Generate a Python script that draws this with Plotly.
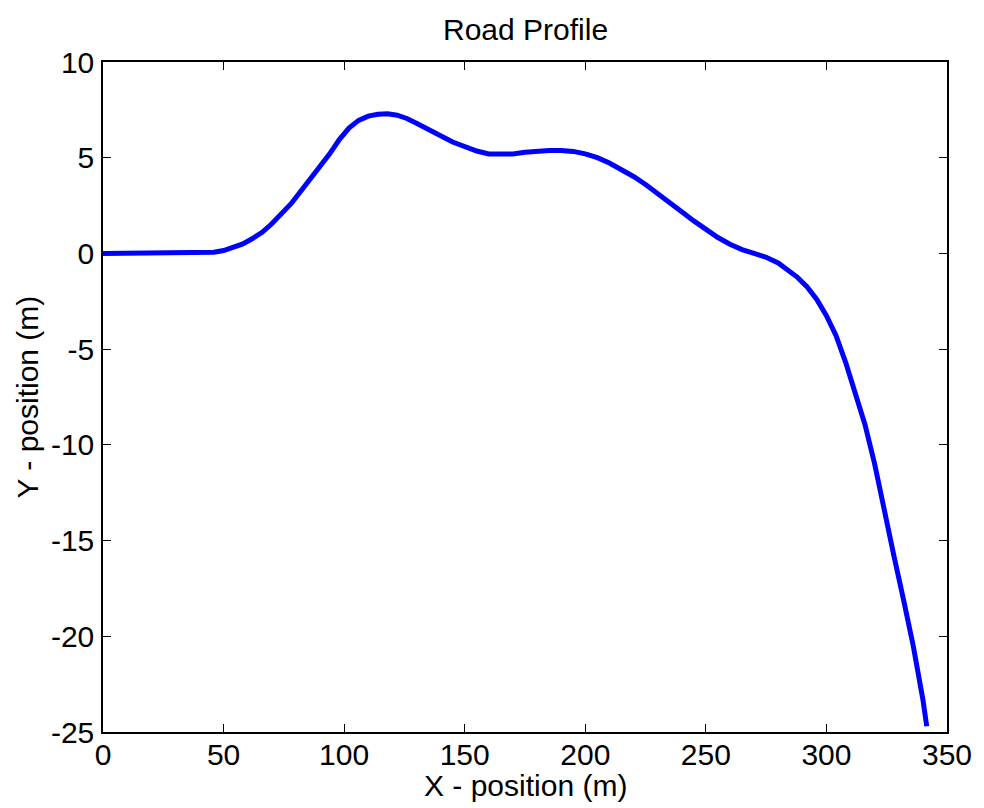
import plotly.graph_objects as go

# Road centreline profile (metres)
x_pos = [0, 42, 46, 50, 54, 58, 62, 66, 70, 74, 78, 82, 86, 90, 94, 98, 102, 106, 110, 114,
         118, 122, 126, 130, 135, 140, 145, 150, 155, 160, 165, 170, 175, 180, 185, 190, 195,
         200, 205, 210, 215, 220, 225, 230, 235, 240, 245, 250, 255, 260, 265, 270, 275, 280,
         284, 288, 292, 296, 300, 304, 308, 312, 316, 320, 324, 328, 332, 336, 340, 341.6]
y_pos = [0, 0, 0.06, 0.15, 0.3, 0.5, 0.78, 1.1, 1.55, 2.05, 2.6, 3.25, 3.9, 4.5, 5.2, 5.95,
         6.55, 6.95, 7.17, 7.27, 7.3, 7.22, 7.05, 6.8, 6.5, 6.15, 5.82, 5.55, 5.35, 5.2, 5.17,
         5.2, 5.28, 5.34, 5.38, 5.38, 5.33, 5.2, 5.0, 4.72, 4.4, 4.02, 3.6, 3.15, 2.67, 2.18,
         1.7, 1.25, 0.83, 0.48, 0.2, 0.0, -0.2, -0.5, -0.85, -1.25, -1.75, -2.4, -3.25, -4.3,
         -5.7, -7.3, -8.95, -11.0, -13.5, -15.8, -18.1, -20.5, -23.3, -24.7]

x_ticks = [0, 50, 100, 150, 200, 250, 300, 350]
x_tick_text = ["0", "50", "100", "150", "200", "250", "300", "350"]
y_ticks = [10, 5, 0, -5, -10, -15, -20, -25]
y_tick_text = ["10", "5", "0", "-5", "-10", "-15", "-20", "-25"]

FONT = "Liberation Sans, Arial, Helvetica, sans-serif"
FONT_SIZE = 30

fig = go.Figure(
    go.Scatter(x=x_pos, y=y_pos, mode="lines", line=dict(color="#0000ff", width=5),
               showlegend=False)
)

axis_common = dict(
    showgrid=False, zeroline=False, showline=True, linecolor="black", linewidth=1.5,
    mirror="ticks", ticks="inside", ticklen=8, tickwidth=1, tickcolor="black",
    tickfont=dict(family=FONT, size=FONT_SIZE, color="black"),
)

fig.update_layout(
    width=984, height=808,
    margin=dict(l=103, r=32, t=62, b=76),
    paper_bgcolor="white", plot_bgcolor="white",
    xaxis=dict(range=[0, 350], tickvals=x_ticks, ticktext=x_tick_text, ticklabelstandoff=-5,
               **axis_common),
    yaxis=dict(range=[-25, 10], tickvals=y_ticks, ticktext=y_tick_text, ticklabelstandoff=1,
               **axis_common),
    annotations=[
        dict(text="Road Profile", x=0.5, y=1, xref="paper", yref="paper", xanchor="center",
             yanchor="bottom", yshift=14, showarrow=False,
             font=dict(family=FONT, size=FONT_SIZE, color="black")),
        dict(text="X - position (m)", x=0.5, y=0, xref="paper", yref="paper", xanchor="center",
             yanchor="top", yshift=-35, showarrow=False,
             font=dict(family=FONT, size=FONT_SIZE, color="black")),
        dict(text="Y - position (m)", x=0, y=0.5, xref="paper", yref="paper", xanchor="right",
             yanchor="middle", xshift=-58, textangle=-90, showarrow=False,
             font=dict(family=FONT, size=FONT_SIZE, color="black")),
    ],
)

fig.write_html("out.html")
